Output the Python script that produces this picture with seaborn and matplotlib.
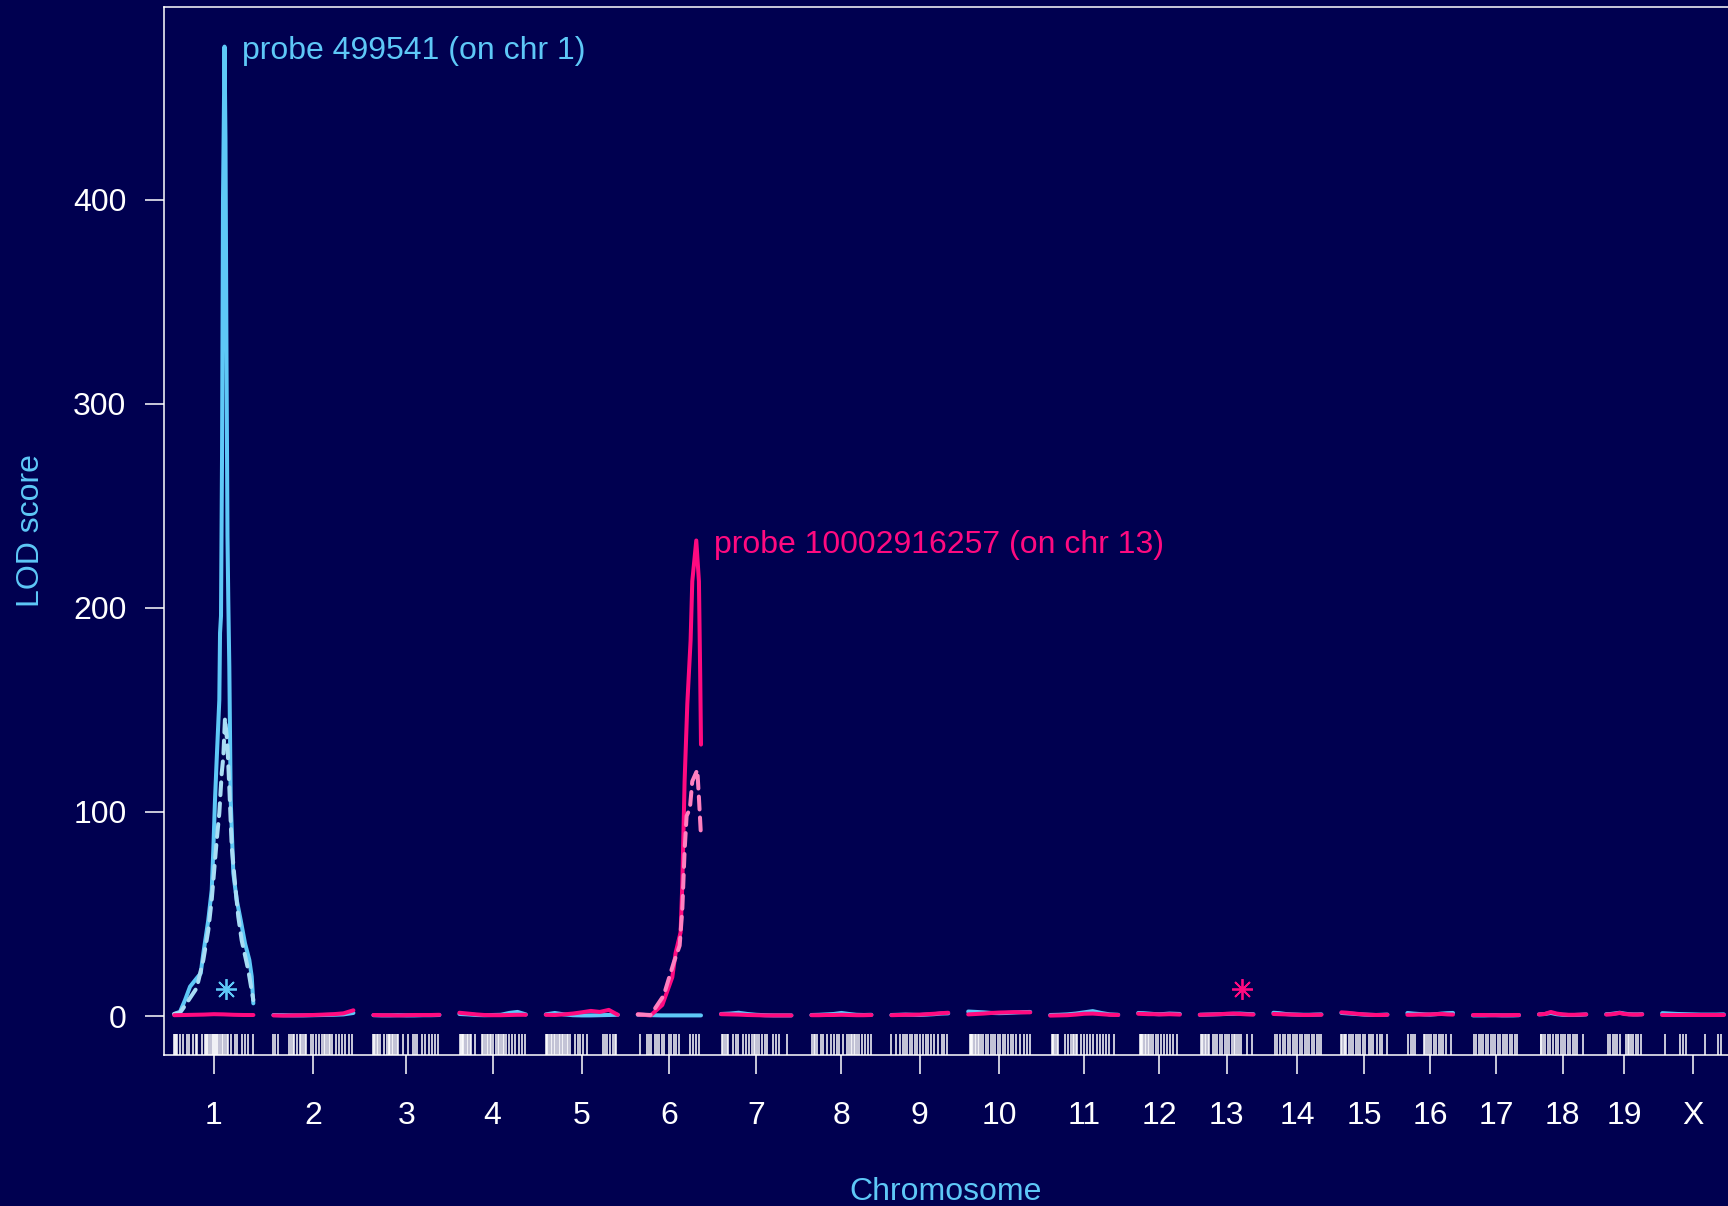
import numpy as np
import pandas as pd
import matplotlib
matplotlib.use("Agg")
import matplotlib.pyplot as plt
import seaborn as sns

# ---------------- data ----------------
chrom_names = [str(i) for i in range(1, 20)] + ["X"]
chrom_lengths = [99, 100, 82.5, 83, 90, 79, 88, 75, 71, 77.5,
                 85, 52, 67, 60, 57.5, 57, 57.5, 59, 45, 77]
chrom_gap = 25.0

# near-zero genome-scan profiles, sampled at these fractions of each chromosome
flat_frac = [0.0, 0.125, 0.25, 0.375, 0.5, 0.625, 0.75, 0.875, 1.0]

probe1_flat = [
    None,
    [0.5, 0.4, 0.3, 0.3, 0.4, 0.5, 0.6, 0.8, 1.5],
    [0.4, 0.3, 0.3, 0.4, 0.3, 0.3, 0.4, 0.4, 0.5],
    [1.0, 0.8, 0.5, 0.4, 0.5, 0.6, 1.5, 2.0, 0.8],
    [0.8, 1.5, 0.8, 0.4, 0.3, 0.3, 0.4, 0.5, 0.6],
    [0.6, 0.5, 0.4, 0.3, 0.3, 0.3, 0.3, 0.3, 0.3],
    [1.0, 1.2, 1.6, 1.0, 0.6, 0.4, 0.3, 0.3, 0.3],
    [0.5, 0.6, 0.8, 1.0, 1.5, 1.0, 0.6, 0.5, 0.6],
    [0.5, 0.6, 0.7, 0.6, 0.5, 0.7, 0.9, 1.2, 1.3],
    [2.2, 2.0, 1.8, 1.5, 1.4, 1.5, 1.7, 1.9, 2.0],
    [0.5, 0.6, 0.8, 1.2, 1.8, 2.4, 1.5, 0.8, 0.6],
    [1.5, 1.4, 1.2, 1.0, 0.9, 1.0, 1.2, 1.1, 1.0],
    [0.6, 0.7, 0.8, 0.9, 1.0, 1.1, 1.2, 1.0, 0.9],
    [1.6, 1.4, 1.0, 0.8, 0.7, 0.6, 0.6, 0.7, 0.8],
    [1.5, 1.3, 1.1, 0.9, 0.7, 0.6, 0.5, 0.6, 0.7],
    [1.5, 1.2, 1.0, 0.8, 0.7, 0.9, 1.2, 1.4, 1.5],
    [0.3, 0.3, 0.3, 0.4, 0.4, 0.3, 0.3, 0.3, 0.4],
    [0.8, 1.0, 1.5, 0.9, 0.6, 0.5, 0.5, 0.6, 0.8],
    [0.9, 1.0, 1.3, 1.6, 1.2, 0.9, 0.8, 0.8, 0.9],
    [1.4, 1.2, 1.0, 0.9, 0.8, 0.7, 0.7, 0.7, 0.8],
]

probe2_flat = [
    [0.4, 0.5, 0.6, 0.7, 0.9, 0.8, 0.6, 0.5, 0.5],
    [0.3, 0.2, 0.3, 0.4, 0.5, 0.7, 0.9, 1.3, 2.8],
    [0.5, 0.4, 0.4, 0.3, 0.4, 0.5, 0.5, 0.5, 0.6],
    [1.6, 1.2, 0.8, 0.5, 0.4, 0.4, 0.5, 0.6, 0.6],
    [0.6, 0.5, 0.8, 1.2, 1.8, 2.5, 2.0, 3.0, 0.6],
    None,
    [0.9, 0.8, 0.7, 0.5, 0.4, 0.3, 0.3, 0.3, 0.3],
    [0.4, 0.4, 0.5, 0.5, 0.6, 0.5, 0.4, 0.4, 0.5],
    [0.4, 0.5, 0.6, 0.6, 0.7, 0.9, 1.1, 1.4, 1.6],
    [0.8, 1.0, 1.2, 1.5, 1.7, 1.8, 1.9, 1.8, 1.8],
    [0.2, 0.3, 0.4, 0.7, 1.1, 1.2, 0.9, 0.6, 0.5],
    [1.1, 1.0, 0.9, 0.9, 0.8, 0.8, 0.9, 0.8, 0.7],
    [0.6, 0.7, 0.8, 0.9, 1.1, 1.2, 1.0, 0.8, 0.7],
    [1.0, 0.9, 0.8, 0.7, 0.6, 0.5, 0.5, 0.6, 0.6],
    [1.8, 1.6, 1.3, 1.0, 0.8, 0.6, 0.5, 0.5, 0.6],
    [0.6, 0.6, 0.7, 0.7, 0.8, 0.9, 1.0, 0.8, 0.7],
    [0.5, 0.5, 0.5, 0.4, 0.4, 0.4, 0.4, 0.5, 0.5],
    [0.8, 1.0, 2.0, 1.2, 0.8, 0.6, 0.6, 0.7, 0.8],
    [0.7, 0.8, 1.1, 1.5, 1.0, 0.8, 0.7, 0.7, 0.8],
    [0.5, 0.5, 0.5, 0.5, 0.5, 0.5, 0.5, 0.5, 0.5],
]

# probe 499541: peak on chr 1 (solid and dashed profiles)
probe1_chr1_pos = [0.0, 7.3, 13.5, 19.8, 28.1, 33.1, 36.4, 42.6, 46.9, 48.9, 51.0,
                   53.1, 56.4, 57.3, 58.5, 59.8, 61.0, 62.9, 64.1, 65.4, 66.6,
                   67.6, 68.9, 70.6, 73.9, 78.1, 83.1, 88.5, 93.9, 96.9, 98.9]
probe1_chr1_lod = [1.0, 2.1, 7.8, 14.4, 18.5, 20.9, 30.7, 47, 61.8, 81.4, 105.9,
                   125.5, 154.9, 187.7, 196, 275, 400, 475, 430, 320, 235,
                   204, 171, 106, 70, 57, 47, 35.6, 27.5, 19.3, 6.2]
probe1_chr1_dash_pos = [0.0, 7.0, 11.4, 28.1, 36.4, 42.6, 46.9, 53.1, 56.4, 59.4,
                        61.4, 63.5, 66.4, 68.9, 71.9, 76.0, 80.1, 84.4, 92.6, 98.9]
probe1_chr1_dash_lod = [1.0, 1.5, 3.9, 13.7, 27.5, 42, 57, 86, 99.5, 119,
                        127, 146, 134, 112, 83, 65, 48.7, 37, 22.5, 7.8]

# probe 10002916257: peak on chr 6
probe2_chr6_pos = [0.0, 16.0, 30.6, 43.1, 47.3, 53.5, 55.6, 58.5, 61.9, 66.0,
                   68.1, 73.1, 76.4, 78.0, 79.0]
probe2_chr6_lod = [0.8, 0.3, 5.4, 19, 31, 41, 64, 115, 153, 184,
                   213, 233, 213, 167, 133]
probe2_chr6_dash_pos = [0.0, 16.0, 32.3, 44.8, 52.3, 55.6, 58.5, 61.0, 65.1,
                        68.1, 74.4, 76.4, 79.0]
probe2_chr6_dash_lod = [0.8, 0.5, 10, 26, 34.5, 52, 81, 98, 101.6,
                        115, 120.6, 107, 88]

# probe genomic locations (asterisks)
probe_chrom = ["1", "13"]
probe_pos_cM = [64.75, 52.75]
probe_star_lod = [13, 13]
probe_labels = ["probe 499541 (on chr 1)", "probe 10002916257 (on chr 13)"]

# marker map (rug), cM within chromosome
marker_cM = [
    [0, 1, 2, 3, 7.3, 10.6, 15.6, 18.9, 23.9, 27.3, 28.9, 34.3, 38.5, 39.5, 40.6, 42.7, 44.8,
     46.8, 48.9, 50, 51, 52, 53.1, 55.2, 57.3, 59.3, 61.4, 63.5, 65.6, 67.7, 71, 76, 78.9,
     84.3, 88.5, 92.7, 98.9],
    [0, 2, 6, 20, 22, 24, 26, 29, 33, 35, 37, 39, 41, 47, 50, 53, 57, 61, 63, 65, 67, 69,
     71, 73, 78, 82, 86, 90, 94, 98],
    [0, 1, 2, 4, 6, 8, 13, 17, 19, 20, 21, 23, 25, 27, 29, 31, 37, 43, 49, 52, 55, 61, 65,
     69, 73, 77, 81],
    [1, 2, 3, 4, 5, 7, 9, 11, 13, 15, 20, 28, 30, 32, 34, 36, 38, 40, 42, 46, 48, 50, 52,
     54, 56, 58, 62, 66, 70, 74, 78, 82],
    [0, 1, 2, 4, 6, 8, 10, 12, 14, 16, 18, 20, 22, 24, 26, 28, 30, 37, 40, 43, 47, 51, 72,
     74, 76, 80, 84, 86, 88],
    [3, 11, 14, 17, 21, 24, 27, 30, 33, 39, 42, 45, 48, 51, 65, 69, 73, 77],
    [1, 3, 5, 7, 9, 15, 19, 21, 27, 31, 35, 39, 41, 43, 45, 47, 51, 55, 57, 65, 69, 73, 83],
    [1, 3, 5, 7, 12, 15, 20, 24, 28, 32, 35, 39, 45, 47, 49, 51, 53, 55, 57, 59, 63, 67, 71, 74],
    [0, 6, 11, 14, 17, 20, 23, 26, 29, 32, 36, 40, 43, 46, 49, 53, 58, 63, 66, 70],
    [2, 3, 4, 5, 6, 8, 10, 12, 14, 16, 19, 22, 25, 28, 31, 34, 37, 40, 43, 46, 50, 53, 56,
     60, 65, 70, 74, 77],
    [2, 3, 4, 6, 8, 10, 18, 22, 26, 28, 30, 32, 34, 38, 42, 46, 50, 54, 58, 62, 66, 70, 74, 80],
    [2, 3, 4, 5, 6, 8, 10, 12, 14, 16, 18, 22, 25, 28, 32, 36, 40, 44, 48],
    [2, 3, 4, 6, 8, 10, 12, 16, 19, 22, 25, 28, 31, 34, 37, 40, 43, 44, 46, 49, 52, 59, 65],
    [2, 5, 8, 12, 15, 18, 21, 24, 27, 30, 33, 36, 39, 42, 45, 48, 51, 54, 57, 59],
    [0, 1, 3, 5, 6, 9, 12, 15, 18, 21, 23, 27, 30, 34, 37, 40, 44, 48, 51, 57],
    [1, 4, 7, 9, 21, 22, 24, 27, 30, 33, 36, 39, 42, 45, 48, 55],
    [1, 4, 7, 10, 13, 16, 19, 22, 25, 28, 31, 34, 37, 40, 43, 46, 49, 52, 55],
    [2, 3, 5, 8, 11, 14, 17, 21, 24, 27, 30, 33, 36, 39, 42, 45, 48, 55],
    [2, 5, 8, 11, 14, 17, 25, 27, 28, 31, 34, 37, 40, 43],
    [3, 22, 26, 30, 54, 70, 74],
]

# ---------------- style ----------------
bg = "#000050"
blue = "#5EC8F7"
blue_light = "#A9DDF5"
pink = "#FF0A80"
pink_light = "#FF80C0"
fs = 23

sns.set_theme(style="ticks")
plt.rcParams["font.family"] = ["Liberation Sans", "DejaVu Sans"]

# ---------------- genome layout ----------------
lengths = np.array(chrom_lengths, dtype=float)
starts = np.concatenate([[0.0], np.cumsum(lengths[:-1] + chrom_gap)])
mids = starts + lengths / 2
cidx = {c: i for i, c in enumerate(chrom_names)}

rows = []


def add(series, ci, pos, lod):
    for p, l in zip(pos, lod):
        rows.append(dict(series=series, chrom=chrom_names[ci], gpos=starts[ci] + p, lod=l))


for ci in range(len(chrom_names)):
    L = chrom_lengths[ci]
    if probe1_flat[ci] is not None:
        add("p1_solid", ci, [f * L for f in flat_frac], probe1_flat[ci])
    if probe2_flat[ci] is not None:
        add("p2_solid", ci, [f * L for f in flat_frac], probe2_flat[ci])
add("p1_solid", 0, probe1_chr1_pos, probe1_chr1_lod)
add("p1_dash", 0, probe1_chr1_dash_pos, probe1_chr1_dash_lod)
add("p2_solid", 5, probe2_chr6_pos, probe2_chr6_lod)
add("p2_dash", 5, probe2_chr6_dash_pos, probe2_chr6_dash_lod)
df = pd.DataFrame(rows)

rug_x = np.concatenate([starts[i] + np.array(m, dtype=float) for i, m in enumerate(marker_cM)])

# ---------------- figure ----------------
fig = plt.figure(figsize=(17.28, 12.06), dpi=100, facecolor=bg)
ax = fig.add_axes([164 / 1728, 1 - 1055 / 1206, 1 - 164 / 1728, (1055 - 7) / 1206])
ax.set_facecolor(bg)

dash = (0, (3.2, 2.0))
for key, col, ls in [("p1_solid", blue, "-"), ("p1_dash", blue_light, dash),
                     ("p2_solid", pink, "-"), ("p2_dash", pink_light, dash)]:
    sns.lineplot(data=df[df.series == key], x="gpos", y="lod", units="chrom",
                 estimator=None, color=col, linewidth=2.9, linestyle=ls,
                 solid_capstyle="round", dash_capstyle="round",
                 solid_joinstyle="round",
                 ax=ax, legend=False)

sns.rugplot(x=rug_x, height=0.02, color="white", linewidth=1.1, alpha=1.0,
            expand_margins=False, ax=ax)

# asterisks at probe locations
for c, p, l, col in zip(probe_chrom, probe_pos_cM, probe_star_lod, [blue, pink]):
    ax.plot([starts[cidx[c]] + p], [l], marker=(8, 2, 0), markersize=15,
            markeredgecolor=col, markeredgewidth=1.3, linestyle="none")

# peak labels
for key, col, txt in [("p1_solid", blue, probe_labels[0]), ("p2_solid", pink, probe_labels[1])]:
    sub = df[df.series == key]
    r = sub.loc[sub.lod.idxmax()]
    ax.text(r.gpos + 22, r.lod - 2, txt, color=col, fontsize=fs, ha="left", va="center")

ax.set_xlim(-12.75, 1942.25)
ax.set_ylim(-19.1, 494.4)
ax.set_xticks(mids)
ax.set_xticklabels(chrom_names)
ax.set_yticks([0, 100, 200, 300, 400])
ax.set_yticklabels(["0", "100", "200", "300", "400"])

ax.tick_params(axis="both", colors="white", labelcolor="white", labelsize=fs,
               length=13.5, width=1.1, direction="out")
ax.tick_params(axis="x", pad=19.5)
ax.tick_params(axis="y", pad=13.5)

for s in ["left", "bottom", "top"]:
    ax.spines[s].set_color("white")
    ax.spines[s].set_linewidth(1.1)
ax.spines["right"].set_visible(False)

ax.set_xlabel("Chromosome", color=blue, fontsize=fs, va="center")
ax.set_ylabel("LOD score", color=blue, fontsize=fs, va="center")
ax.xaxis.set_label_coords(0.5, (1055 - 1192) / 1048)
ax.yaxis.set_label_coords((31 - 164) / 1564, 0.5)

fig.savefig("out.png", dpi=100, facecolor=bg)
